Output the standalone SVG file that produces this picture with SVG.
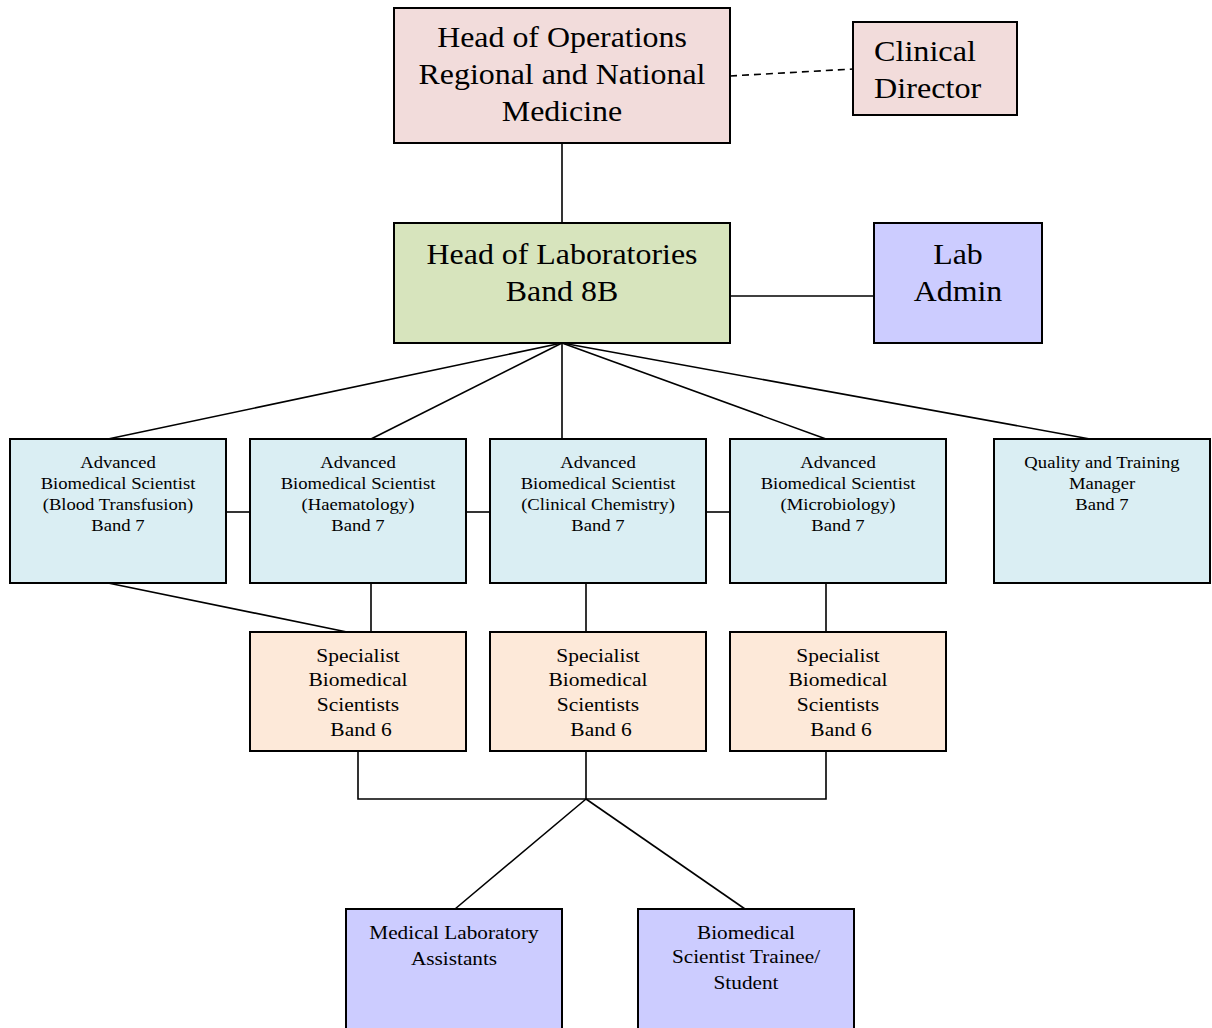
<svg xmlns="http://www.w3.org/2000/svg" width="1212" height="1028" viewBox="0 0 1212 1028">
<style>
.box{stroke:#000;stroke-width:2}
.pink{fill:#F2DCDB}.green{fill:#D7E4BD}.lav{fill:#CCCCFF}.blue{fill:#DAEEF3}.peach{fill:#FDE9D9}
text{font-family:"Liberation Serif","Times New Roman",serif;fill:#000;text-anchor:middle}
.l{font-size:29px}.m{font-size:16.5px}.s{font-size:19px}
.c line,.c path{stroke:#000;stroke-width:1.6;fill:none}
</style>
<rect width="1212" height="1028" fill="#fff"/>
<g class="c" id="connectors">
<line x1="730" y1="76" x2="853" y2="69" stroke-dasharray="7,5"/>
<line x1="562" y1="143" x2="562" y2="223"/>
<line x1="730" y1="296" x2="874" y2="296"/>
<line x1="562" y1="343" x2="108" y2="439"/>
<line x1="562" y1="343" x2="371" y2="439"/>
<line x1="562" y1="343" x2="562" y2="439"/>
<line x1="562" y1="343" x2="826" y2="439"/>
<line x1="562" y1="343" x2="1090" y2="439"/>
<line x1="226" y1="512" x2="250" y2="512"/>
<line x1="466" y1="512" x2="490" y2="512"/>
<line x1="706" y1="512" x2="730" y2="512"/>
<line x1="108" y1="583" x2="347" y2="632"/>
<line x1="371" y1="583" x2="371" y2="632"/>
<line x1="586" y1="583" x2="586" y2="632"/>
<line x1="826" y1="583" x2="826" y2="632"/>
<path d="M358 751V799H826V751M586 751V799"/>
<line x1="586" y1="799" x2="455" y2="909"/>
<line x1="586" y1="799" x2="745" y2="909"/>
</g>
<g id="head-ops"><rect class="box pink" x="394" y="8" width="336" height="135"/>
<g transform="translate(562 0) scale(1.1 1)"><text class="l" x="0" y="47">Head of Operations</text><text class="l" x="0" y="84">Regional and National</text><text class="l" x="0" y="121">Medicine</text></g></g>
<g id="clinical-director"><rect class="box pink" x="853" y="22" width="164" height="93"/>
<g transform="translate(874 0) scale(1.11 1)"><text class="l" x="0" y="61" style="text-anchor:start">Clinical</text><text class="l" x="0" y="98" style="text-anchor:start">Director</text></g></g>
<g id="head-labs"><rect class="box green" x="394" y="223" width="336" height="120"/>
<g transform="translate(562 0) scale(1.1 1)"><text class="l" x="0" y="264">Head of Laboratories</text><text class="l" x="0" y="301">Band 8B</text></g></g>
<g id="lab-admin"><rect class="box lav" x="874" y="223" width="168" height="120"/>
<g transform="translate(958 0) scale(1.1 1)"><text class="l" x="0" y="264">Lab</text><text class="l" x="0" y="301">Admin</text></g></g>
<g id="abs-bt"><rect class="box blue" x="10" y="439" width="216" height="144"/>
<g transform="translate(118 0) scale(1.13 1)"><text class="m" x="0" y="468">Advanced</text><text class="m" x="0" y="489">Biomedical Scientist</text><text class="m" x="0" y="510">(Blood Transfusion)</text><text class="m" x="0" y="531">Band 7</text></g></g>
<g id="abs-haem"><rect class="box blue" x="250" y="439" width="216" height="144"/>
<g transform="translate(358 0) scale(1.13 1)"><text class="m" x="0" y="468">Advanced</text><text class="m" x="0" y="489">Biomedical Scientist</text><text class="m" x="0" y="510">(Haematology)</text><text class="m" x="0" y="531">Band 7</text></g></g>
<g id="abs-cc"><rect class="box blue" x="490" y="439" width="216" height="144"/>
<g transform="translate(598 0) scale(1.13 1)"><text class="m" x="0" y="468">Advanced</text><text class="m" x="0" y="489">Biomedical Scientist</text><text class="m" x="0" y="510">(Clinical Chemistry)</text><text class="m" x="0" y="531">Band 7</text></g></g>
<g id="abs-micro"><rect class="box blue" x="730" y="439" width="216" height="144"/>
<g transform="translate(838 0) scale(1.13 1)"><text class="m" x="0" y="468">Advanced</text><text class="m" x="0" y="489">Biomedical Scientist</text><text class="m" x="0" y="510">(Microbiology)</text><text class="m" x="0" y="531">Band 7</text></g></g>
<g id="qtm"><rect class="box blue" x="994" y="439" width="216" height="144"/>
<g transform="translate(1102 0) scale(1.13 1)"><text class="m" x="0" y="468">Quality and Training</text><text class="m" x="0" y="489">Manager</text><text class="m" x="0" y="510">Band 7</text></g></g>
<g id="sbs1"><rect class="box peach" x="250" y="632" width="216" height="119"/>
<g transform="translate(358 0) scale(1.13 1)"><text class="s" x="0" y="662">Specialist</text><text class="s" x="0" y="686">Biomedical</text><text class="s" x="0" y="711">Scientists</text><text class="s" x="2.7" y="736">Band 6</text></g></g>
<g id="sbs2"><rect class="box peach" x="490" y="632" width="216" height="119"/>
<g transform="translate(598 0) scale(1.13 1)"><text class="s" x="0" y="662">Specialist</text><text class="s" x="0" y="686">Biomedical</text><text class="s" x="0" y="711">Scientists</text><text class="s" x="2.7" y="736">Band 6</text></g></g>
<g id="sbs3"><rect class="box peach" x="730" y="632" width="216" height="119"/>
<g transform="translate(838 0) scale(1.13 1)"><text class="s" x="0" y="662">Specialist</text><text class="s" x="0" y="686">Biomedical</text><text class="s" x="0" y="711">Scientists</text><text class="s" x="2.7" y="736">Band 6</text></g></g>
<g id="mla"><rect class="box lav" x="346" y="909" width="216" height="130"/>
<g transform="translate(454 0) scale(1.12 1)"><text class="s" x="0" y="939">Medical Laboratory</text><text class="s" x="0" y="965">Assistants</text></g></g>
<g id="trainee"><rect class="box lav" x="638" y="909" width="216" height="130"/>
<g transform="translate(746 0) scale(1.12 1)"><text class="s" x="0" y="939">Biomedical</text><text class="s" x="0" y="963">Scientist Trainee/</text><text class="s" x="0" y="989">Student</text></g></g>
</svg>
